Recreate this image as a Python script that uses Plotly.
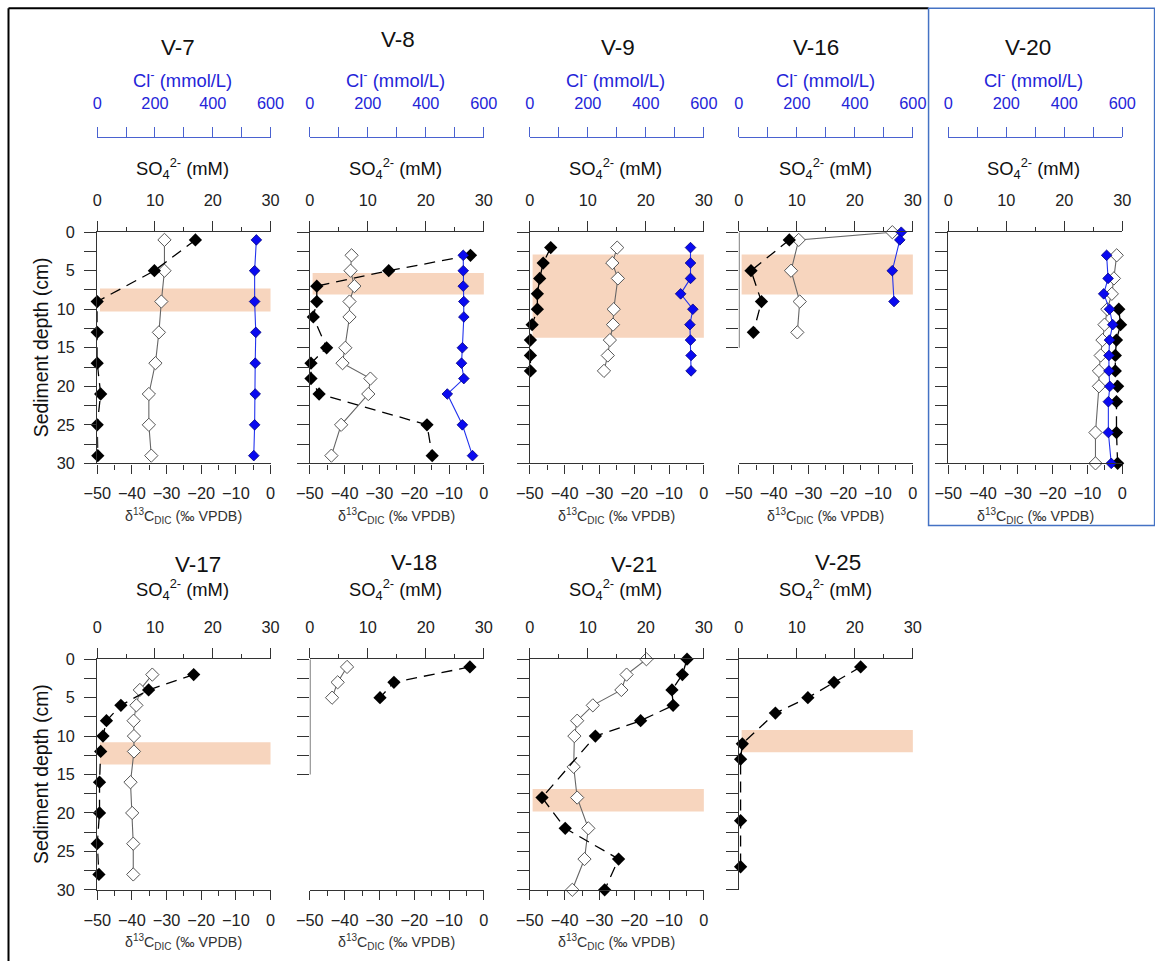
import plotly.graph_objects as go

# Target positions below are given in photographed-window pixels (1155 x 961).
# The photographed page shows the figure slightly shrunk and offset, so the
# figure is laid out in its own pixels through this calibration.
SX, OX = 0.976, 13.5
SY, OY = 0.985, 6.7
W, H = 1170, 970
FS = 1.0 / 0.98  # font / size compensation for the shrink
FONT = "Liberation Sans, Arial, sans-serif"

# ---------------- data (depth in cm) ----------------
V7_DEPTH = [1, 5, 9, 13, 17, 21, 25, 29]
V7_SO4 = [17.0, 9.9, 0.0, 0.0, 0.0, 0.6, 0.0, 0.1]
V7_D13C = [-30.6, -30.6, -31.5, -32.2, -33.2, -35.1, -35.1, -34.4]
V7_CL = [551, 545, 545, 549, 547, 547, 545, 542]
V7_BAND = [7.3, 10.3]

V8_DEPTH = [3, 5, 7, 9, 11, 15, 17, 19, 21, 25, 29]
V8_SO4 = [27.7, 13.6, 1.2, 1.2, 0.6, 2.9, 0.2, 0.2, 1.6, 20.2, 21.1]
V8_D13C = [-38.0, -38.3, -37.2, -38.6, -38.6, -39.8, -40.6, -32.6, -33.2, -41.0, -43.8]
V8_CL = [529, 529, 529, 531, 531, 526, 523, 531, 474, 526, 561]
V8_BAND = [5.3, 8.1]

V9_DEPTH = [2, 4, 6, 8, 10, 12, 14, 16, 18]
V9_SO4 = [3.6, 2.3, 1.7, 1.3, 1.3, 0.4, 0.1, 0.1, 0.1]
V9_D13C_DEPTH = [2, 4, 6, 10, 12, 14, 16, 18]
V9_D13C = [-24.9, -26.3, -24.7, -25.9, -26.1, -27.0, -27.6, -28.7]
V9_CL = [554, 554, 554, 520, 562, 552, 554, 556, 556]
V9_BAND = [2.9, 13.7]

V16_SO4_DEPTH = [1, 5, 9, 13]
V16_SO4 = [8.7, 2.1, 3.9, 2.5]
V16_D13C_DEPTH = [0, 1, 5, 9, 13]
V16_D13C = [-5.9, -32.8, -35.0, -32.5, -33.2]
V16_CL_DEPTH = [0, 1, 5, 9]
V16_CL = [560, 555, 529, 535]
V16_BAND = [2.9, 8.1]

V20_SO4_DEPTH = [10, 12, 14, 16, 18, 20, 22, 26, 30]
V20_SO4 = [29.4, 29.7, 29.0, 28.8, 28.8, 29.2, 29.0, 29.0, 29.2]
V20_D13C_DEPTH = [3, 6, 8, 10, 12, 14, 16, 18, 20, 26, 30]
V20_D13C = [-1.6, -2.4, -3.0, -4.3, -5.1, -5.7, -6.2, -6.7, -6.7, -7.7, -7.7]
V20_CL_DEPTH = [3, 6, 8, 10, 12, 14, 16, 18, 20, 22, 26, 30]
V20_CL = [546, 551, 536, 556, 567, 556, 554, 554, 557, 552, 552, 562]

V17_DEPTH = [2, 4, 6, 8, 10, 12, 16, 20, 24, 28]
V17_SO4 = [16.7, 8.9, 4.1, 1.6, 1.0, 0.6, 0.4, 0.4, 0.0, 0.3]
V17_D13C = [-34.1, -37.7, -38.7, -39.5, -39.4, -39.4, -40.4, -39.9, -39.6, -39.6]
V17_BAND = [10.8, 13.7]

V18_DEPTH = [1, 3, 5]
V18_SO4 = [27.6, 14.5, 12.1]
V18_D13C = [-39.3, -42.0, -43.6]

V21_SO4_DEPTH = [0, 2, 4, 6, 8, 10, 18, 22, 26, 30]
V21_SO4 = [27.1, 26.3, 24.5, 24.7, 19.1, 11.3, 2.1, 6.1, 15.3, 12.9]
V21_D13C_DEPTH = [0, 2, 4, 6, 8, 10, 14, 18, 22, 26, 30]
V21_D13C = [-16.5, -22.2, -23.7, -31.9, -36.4, -37.2, -37.4, -36.4, -33.2, -34.3, -37.8]
V21_BAND = [16.9, 19.8]

V25_DEPTH = [1, 3, 5, 7, 11, 13, 21, 27]
V25_SO4 = [21.0, 16.4, 11.9, 6.3, 0.6, 0.3, 0.3, 0.3]
V25_BAND = [9.2, 12.1]

D13C_TICKS = [-50, -40, -30, -20, -10, 0]
SO4_TICKS = [0, 10, 20, 30]
CL_TICKS = [0, 100, 200, 300, 400, 500, 600]

# ---------------- layout geometry (window pixels) ----------------
TOP = dict(y0=230.7, y1=462.7, title_y=45, cl_title_y=77, cl_line_y=135,
           so4_title_y=167, btitle_y=516)
BOT = dict(y0=659.3, y1=890.7, title_y=564, so4_title_y=589, btitle_y=943)

panels = [
    dict(name="V-7", row=TOP, xp=(96.7, 270), tx=177, hx=182, band=V7_BAND,
         so4=(V7_DEPTH, V7_SO4), d13c=(V7_DEPTH, V7_D13C), cl=(V7_DEPTH, V7_CL),
         ylab=True, ymax=30, bottom=True),
    dict(name="V-8", row=TOP, xp=(309.3, 483.3), tx=397, hx=395, band=V8_BAND, ty=37,
         so4=(V8_DEPTH, V8_SO4), d13c=(V8_DEPTH, V8_D13C), cl=(V8_DEPTH, V8_CL),
         ylab=False, ymax=30, bottom=True),
    dict(name="V-9", row=TOP, xp=(529.3, 703.3), tx=617, hx=615, band=V9_BAND,
         so4=(V9_DEPTH, V9_SO4), d13c=(V9_D13C_DEPTH, V9_D13C), cl=(V9_DEPTH, V9_CL),
         ylab=False, ymax=30, bottom=True),
    dict(name="V-16", row=TOP, xp=(738.3, 912.3), tx=815, hx=825, band=V16_BAND,
         so4=(V16_SO4_DEPTH, V16_SO4), d13c=(V16_D13C_DEPTH, V16_D13C),
         cl=(V16_CL_DEPTH, V16_CL), ylab=False, ymax=15, bottom=True),
    dict(name="V-20", row=TOP, xp=(947.7, 1121.7), tx=1027, hx=1033, band=None,
         so4=(V20_SO4_DEPTH, V20_SO4), d13c=(V20_D13C_DEPTH, V20_D13C),
         cl=(V20_CL_DEPTH, V20_CL), ylab=False, ymax=30, bottom=True),
    dict(name="V-17", row=BOT, xp=(96.7, 270), tx=197, hx=182, band=V17_BAND,
         so4=(V17_DEPTH, V17_SO4), d13c=(V17_DEPTH, V17_D13C), cl=None,
         ylab=True, ymax=30, bottom=True),
    dict(name="V-18", row=BOT, xp=(309.3, 483.3), tx=413, hx=395, band=None, ty=562,
         so4=(V18_DEPTH, V18_SO4), d13c=(V18_DEPTH, V18_D13C), cl=None,
         ylab=False, ymax=15, bottom=True),
    dict(name="V-21", row=BOT, xp=(529.3, 703.3), tx=633, hx=615, band=V21_BAND,
         so4=(V21_SO4_DEPTH, V21_SO4), d13c=(V21_D13C_DEPTH, V21_D13C), cl=None,
         ylab=False, ymax=30, bottom=True),
    dict(name="V-25", row=BOT, xp=(738.3, 912.3), tx=837, hx=825, band=V25_BAND, ty=562,
         so4=(V25_DEPTH, V25_SO4), d13c=None, cl=None,
         ylab=False, ymax=30, bottom=False),
]

AX = "#333333"
TICKFONT = dict(family=FONT, size=16 * FS, color="#222222")
BLUE_TXT = "#2424d8"
BLUE_LINE = "#4a62d0"
BAND_COLOR = "#f7d5be"


def px(x):
    return ((x - OX) / SX) / W


def py(y):
    return 1 - ((y - OY) / SY) / H


def xname(k):
    return "xaxis" if k == 1 else f"xaxis{k}"


def xref(k):
    return "x" if k == 1 else f"x{k}"


def yname(k):
    return "yaxis" if k == 1 else f"yaxis{k}"


def yref(k):
    return "y" if k == 1 else f"y{k}"


fig = go.Figure()
layout = {}
shapes = []
annotations = []

for i, p in enumerate(panels):
    kb, ks, kc, ky = 3 * i + 1, 3 * i + 2, 3 * i + 3, i + 1
    r = p["row"]
    dom = [px(p["xp"][0]), px(p["xp"][1])]
    ydom = [py(r["y1"]), py(r["y0"])]

    yt = [v * 2.5 for v in range(int(p["ymax"] / 2.5) + 1)]
    ytt = [(f"{v:g}" if (v % 5 == 0) else "") for v in yt]
    layout[yname(ky)] = dict(
        domain=ydom, range=[30, 0], anchor=xref(kb), showgrid=False, zeroline=False,
        showline=(p["ymax"] == 30), linecolor=AX, linewidth=1.3,
        tickmode="array", tickvals=yt, ticktext=ytt, ticks="outside", ticklen=12,
        tickcolor=AX, tickwidth=1.2, showticklabels=p["ylab"], tickfont=TICKFONT,
        ticklabelstandoff=6,
    )
    layout[xname(kb)] = dict(
        domain=dom, range=[-50, 0], anchor=yref(ky), side="bottom", showgrid=False,
        zeroline=False, visible=p["bottom"], showline=True, linecolor=AX, linewidth=1.3,
        tickmode="array", tickvals=D13C_TICKS, ticks="outside", ticklen=9, tickcolor=AX,
        tickwidth=1.2, tickfont=TICKFONT, ticklabelstandoff=6,
        minor=dict(tickvals=[-45, -35, -25, -15, -5], ticks="outside", ticklen=5,
                   tickcolor=AX, tickwidth=1.2),
    )
    layout[xname(ks)] = dict(
        overlaying=xref(kb), range=[0, 30], anchor=yref(ky), side="top", showgrid=False,
        zeroline=False, showline=True, linecolor=AX, linewidth=1.3,
        tickmode="array", tickvals=SO4_TICKS, ticks="outside", ticklen=10, tickcolor=AX,
        tickwidth=1.2, tickfont=TICKFONT, ticklabelstandoff=9,
        minor=dict(tickvals=[5, 15, 25], ticks="outside", ticklen=4, tickcolor=AX,
                   tickwidth=1.2),
    )
    if p["cl"] is not None:
        layout[xname(kc)] = dict(
            overlaying=xref(kb), range=[0, 600], anchor="free", position=py(r["cl_line_y"]),
            side="top", showgrid=False, zeroline=False, showline=True,
            linecolor=BLUE_LINE, linewidth=1.3, tickmode="array", tickvals=CL_TICKS,
            ticktext=["0", "", "200", "", "400", "", "600"], ticks="outside", ticklen=10,
            tickcolor=BLUE_LINE, tickwidth=1.2,
            tickfont=dict(family=FONT, size=16 * FS, color=BLUE_TXT), ticklabelstandoff=11,
        )

    # SMTZ band
    if p["band"] is not None:
        shapes.append(dict(type="rect", xref=xref(kb), yref=yref(ky), x0=-49.2, x1=0.6,
                           y0=p["band"][0], y1=p["band"][1], fillcolor=BAND_COLOR,
                           line=dict(width=0), layer="below"))
    # short depth axis
    if p["ymax"] != 30:
        shapes.append(dict(type="line", xref=xref(kb), yref=yref(ky), x0=-50, x1=-50,
                           y0=0, y1=p["ymax"], line=dict(color=AX, width=1.3)))

    # traces: DIC d13C (open), sulfate (black), chloride (blue)
    if p["d13c"] is not None:
        fig.add_trace(go.Scatter(
            x=p["d13c"][1], y=p["d13c"][0], xaxis=xref(kb), yaxis=yref(ky),
            mode="lines+markers", cliponaxis=False, showlegend=False,
            line=dict(color="#666666", width=1.1),
            marker=dict(symbol="diamond", size=10 * FS, color="white",
                        line=dict(color="#555555", width=1))))
    fig.add_trace(go.Scatter(
        x=p["so4"][1], y=p["so4"][0], xaxis=xref(ks), yaxis=yref(ky),
        mode="lines+markers", cliponaxis=False, showlegend=False,
        line=dict(color="black", width=1.3, dash="11px,7px"),
        marker=dict(symbol="diamond", size=10 * FS, color="black")))
    if p["cl"] is not None:
        fig.add_trace(go.Scatter(
            x=p["cl"][1], y=p["cl"][0], xaxis=xref(kc), yaxis=yref(ky),
            mode="lines+markers", cliponaxis=False, showlegend=False,
            line=dict(color="#2233ee", width=1.1),
            marker=dict(symbol="diamond", size=8 * FS, color="#0a0af0",
                        line=dict(color="#000080", width=0.8))))

    # texts
    annotations.append(dict(text=p["name"], x=px(p["tx"]), y=py(p.get("ty", r["title_y"])),
                            xref="paper", yref="paper", showarrow=False,
                            font=dict(family=FONT, size=22 * FS, color="#111111"),
                            xanchor="center", yanchor="middle"))
    if p["cl"] is not None:
        annotations.append(dict(text="Cl<sup>-</sup> (mmol/L)", x=px(p["hx"]),
                                y=py(r["cl_title_y"]), xref="paper", yref="paper",
                                showarrow=False,
                                font=dict(family=FONT, size=18 * FS, color=BLUE_TXT),
                                xanchor="center", yanchor="middle"))
    annotations.append(dict(text="SO<sub>4</sub><sup>2-</sup> (mM)", x=px(p["hx"]),
                            y=py(r["so4_title_y"]), xref="paper", yref="paper",
                            showarrow=False,
                            font=dict(family=FONT, size=18 * FS, color="#111111"),
                            xanchor="center", yanchor="middle"))
    if p["bottom"]:
        annotations.append(dict(text="δ<sup>13</sup>C<sub>DIC</sub> (‰ VPDB)",
                                x=px((p["xp"][0] + p["xp"][1]) / 2), y=py(r["btitle_y"]),
                                xref="paper", yref="paper", showarrow=False,
                                font=dict(family=FONT, size=14 * FS, color="#333333"),
                                xanchor="center", yanchor="middle"))
    if p["ylab"]:
        annotations.append(dict(text="Sediment depth (cm)", x=px(40),
                                y=py((r["y0"] + r["y1"]) / 2), xref="paper", yref="paper",
                                showarrow=False, textangle=-90,
                                font=dict(family=FONT, size=19 * FS, color="#111111"),
                                xanchor="center", yanchor="middle"))

# outer frames
shapes.append(dict(type="line", xref="paper", yref="paper", x0=px(8), x1=px(928),
                   y0=py(6), y1=py(6), line=dict(color="black", width=2)))
shapes.append(dict(type="line", xref="paper", yref="paper", x0=px(8), x1=px(8),
                   y0=py(6), y1=0, line=dict(color="black", width=2)))
shapes.append(dict(type="rect", xref="paper", yref="paper", x0=px(928), x1=px(1154),
                   y0=py(525), y1=py(6), line=dict(color="#4472c4", width=1.5)))

layout.update(dict(width=W, height=H, margin=dict(l=0, r=0, t=0, b=0), autosize=False,
                   paper_bgcolor="white", plot_bgcolor="rgba(0,0,0,0)",
                   font=dict(family=FONT), shapes=shapes, annotations=annotations,
                   showlegend=False))
fig.update_layout(**layout)
fig.write_html("out.html")
